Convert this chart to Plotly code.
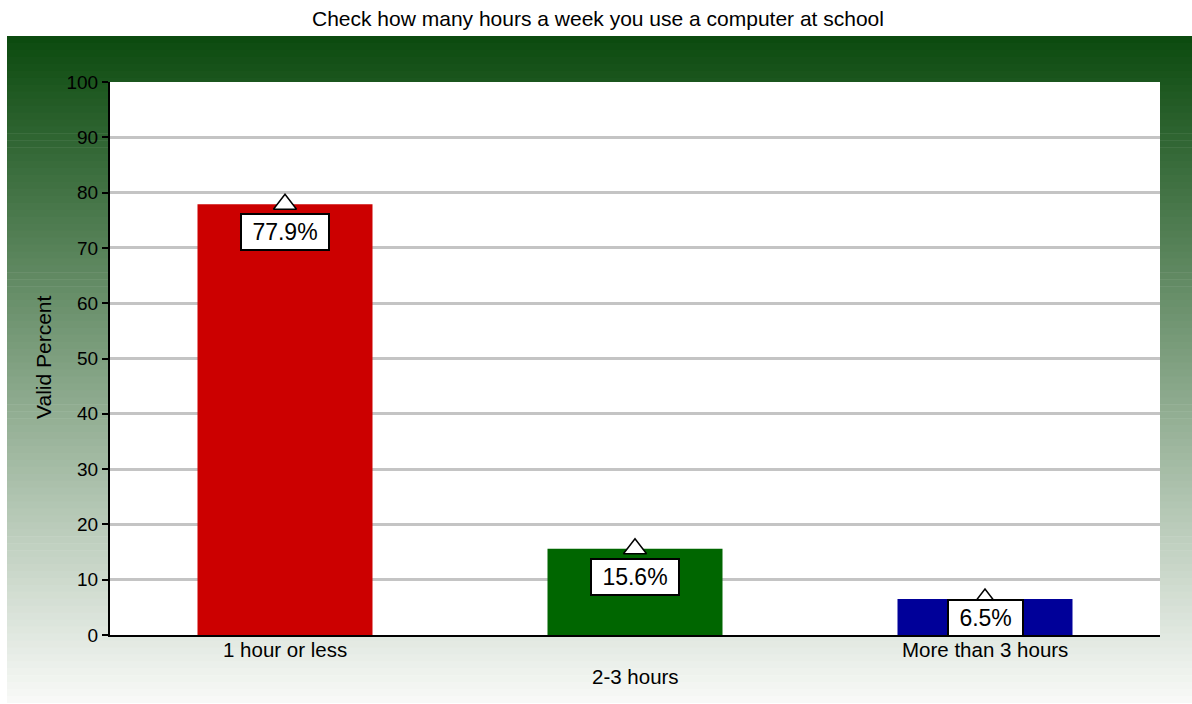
import plotly.graph_objects as go

# ---- data ----
categories = ["1 hour or less", "2-3 hours", "More than 3 hours"]
values = [77.9, 15.6, 6.5]
bar_colors = ["#cc0000", "#006600", "#000099"]
title_text = "Check how many hours a week you use a computer at school"
y_title = "Valid Percent"
y_ticks = [0, 10, 20, 30, 40, 50, 60, 70, 80, 90, 100]

# ---- layout geometry (pixels) ----
W, H = 1192, 704
PL, PR, PT, PB = 110, 1160, 82, 635  # plot area
pw, ph = PR - PL, PB - PT

def px2x(px):
    return (px - PL) / pw

def py2y(py):
    return (PB - py) / ph

FONT = "Liberation Sans, Arial, sans-serif"

fig = go.Figure()

fig.add_trace(go.Bar(
    x=categories, y=values, marker=dict(color=bar_colors, line=dict(width=0)),
    width=0.5, hoverinfo="skip", showlegend=False,
))
fig.add_trace(go.Scatter(
    x=categories, y=values, mode="markers",
    marker=dict(symbol="triangle-up", size=20, color="white",
                line=dict(color="black", width=1.5)),
    cliponaxis=False, showlegend=False, hoverinfo="skip",
))

# ---- gradient background panel (strips) + white plot area ----
shapes = []
top_c = (11, 74, 14)
bot_c = (249, 250, 248)
gx0, gx1, gy0, gy1 = 7, 1192, 36, 703
n = 96
step = (gy1 - gy0) / n
for i in range(n):
    t = (i + 0.5) / n
    c = tuple(round(top_c[k] + (bot_c[k] - top_c[k]) * t) for k in range(3))
    y0p = gy0 + i * step
    y1p = gy0 + (i + 1) * step + 0.6
    shapes.append(dict(
        type="rect", xref="paper", yref="paper", layer="below",
        x0=px2x(gx0), x1=px2x(gx1), y0=py2y(min(y1p, gy1)), y1=py2y(y0p),
        line=dict(width=0), fillcolor="rgb(%d,%d,%d)" % c,
    ))
shapes.append(dict(
    type="rect", xref="paper", yref="paper", layer="below",
    x0=0, x1=1, y0=0, y1=1, line=dict(width=0), fillcolor="white",
))

# ---- annotations ----
annotations = []
px_per_unit = ph / 100.0
for cat, v in zip(categories, values):
    shift = -min(28, v * px_per_unit - 17)
    annotations.append(dict(
        x=cat, y=v, xref="x", yref="y", text=" %.1f%% " % v, showarrow=False,
        yshift=shift, font=dict(family=FONT, size=23, color="black"),
        bgcolor="white", bordercolor="black", borderwidth=2, borderpad=4,
        xanchor="center", yanchor="middle",
    ))

label_y = [649, 676, 649]
for cat, ly in zip(categories, label_y):
    annotations.append(dict(
        x=cat, y=py2y(ly), xref="x", yref="paper", text=cat, showarrow=False,
        font=dict(family=FONT, size=20.5, color="black"),
        xanchor="center", yanchor="middle",
    ))

annotations.append(dict(
    x=px2x(43), y=py2y(357), xref="paper", yref="paper", text=y_title,
    showarrow=False, textangle=-90, font=dict(family=FONT, size=21, color="black"),
    xanchor="center", yanchor="middle",
))
annotations.append(dict(
    x=px2x(598), y=py2y(18), xref="paper", yref="paper", text=title_text,
    showarrow=False, font=dict(family=FONT, size=21, color="black"),
    xanchor="center", yanchor="middle",
))

fig.update_layout(
    width=W, height=H,
    margin=dict(l=PL, r=W - PR, t=PT, b=H - PB, pad=0),
    paper_bgcolor="white", plot_bgcolor="rgba(0,0,0,0)",
    shapes=shapes, annotations=annotations,
    bargap=0.5,
    font=dict(family=FONT, color="black"),
)
fig.update_xaxes(
    showticklabels=False, ticks="", showgrid=False, zeroline=False,
    showline=True, linecolor="black", linewidth=2,
    range=[-0.5, 2.5],
)
fig.update_yaxes(
    range=[0, 100], tickvals=y_ticks, ticks="outside", ticklen=6,
    tickcolor="black", tickwidth=1.5,
    showline=True, linecolor="black", linewidth=2,
    showgrid=True, gridcolor="#c4c4c4", gridwidth=3, zeroline=False,
    tickfont=dict(family=FONT, size=19, color="black"),
)

fig.write_html(
    "out.html",
    config={"displayModeBar": False},
    post_script="document.body.style.margin='0px';document.body.style.overflow='hidden';",
)
